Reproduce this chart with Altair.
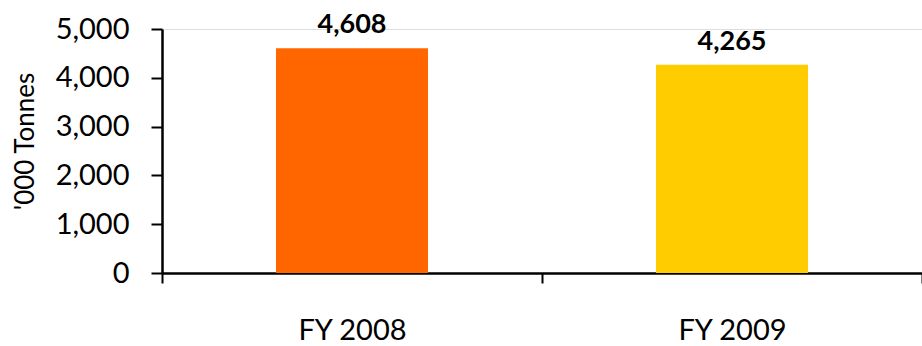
import altair as alt
import pandas as pd

categories = ["FY 2008", "FY 2009"]
values = [4608, 4265]
colors = ["#FF6600", "#FFCC00"]
y_title = "'000 Tonnes"

df = pd.DataFrame({"cat": categories, "val": values, "color": colors})

FONT = "Lato"

x = alt.X("cat:N", sort=categories, title=None,
          scale=alt.Scale(paddingInner=0, paddingOuter=0),
          axis=alt.Axis(tickBand="extent", labelAngle=0, labelFont=FONT, labelFontSize=29,
                        labelColor="black", domainColor="black", domainWidth=2.5,
                        tickColor="black", tickWidth=2, tickSize=10, labelPadding=33,
                        grid=False))
y = alt.Y("val:Q", title=y_title,
          scale=alt.Scale(domain=[0, 5000], nice=False),
          axis=alt.Axis(values=[0, 1000, 2000, 3000, 4000, 5000], format=",.0f",
                        labelFont=FONT, labelFontSize=29, labelColor="black",
                        domainColor="black", domainWidth=2.5, tickColor="black",
                        tickWidth=2, tickSize=11, labelPadding=22, grid=False,
                        titleFont=FONT, titleFontSize=26, titleFontWeight="normal",
                        titleColor="black", titlePadding=17, titleY=112))

bars = alt.Chart().mark_bar(width=alt.RelativeBandSize(0.4)).encode(
    color=alt.Color("color:N", scale=None)
)
text = alt.Chart().mark_text(font=FONT, fontSize=27, fontWeight="bold",
                             baseline="bottom", dy=-9, color="black").encode(
    text=alt.Text("val:Q", format=","),
)

chart = alt.layer(bars, text, data=df).encode(x=x, y=y).properties(
    width=760, height=244,
    background="white",
    autosize=alt.AutoSizeParams(type="none"),
    padding={"left": 162, "top": 29, "right": 0, "bottom": 73},
).configure_view(stroke=None).configure(
    style={"guide-title": {"fontSize": 26, "font": FONT, "fontWeight": "normal"}}
)

chart.save("out.html", embed_options={"renderer": "svg", "actions": False})
